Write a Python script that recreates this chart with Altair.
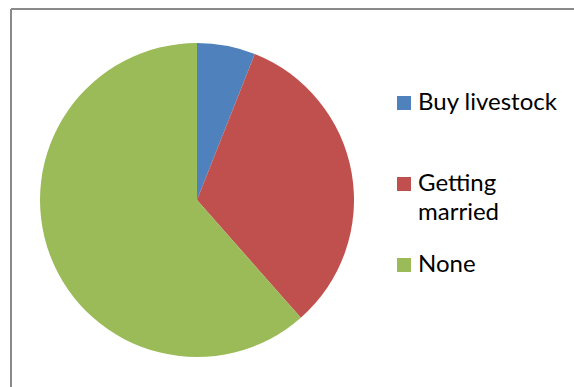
import altair as alt
import pandas as pd

categories = ["Buy livestock", "Getting married", "None"]
shares = [6.0, 32.5, 61.5]
slice_order = [0, 1, 2]
colors = ["#4F81BD", "#C0504D", "#9BBB59"]

df = pd.DataFrame({"category": categories, "share": shares, "order": slice_order})

label_expr = (
    "datum.label == 'Getting married' ? ['Getting', 'married'] : "
    "datum.label == 'Buy livestock' ? ['Buy livestock', ' '] : datum.label"
)

pie = alt.Chart(df).mark_arc(radius=157).encode(
    theta=alt.Theta("share:Q", stack=True),
    order=alt.Order("order:Q"),
    color=alt.Color(
        "category:N",
        scale=alt.Scale(domain=categories, range=colors),
        legend=alt.Legend(
            title=None,
            orient="none",
            legendX=381,
            legendY=82,
            padding=0,
            symbolType="square",
            symbolSize=196,
            symbolStrokeWidth=0,
            labelFont="Lato",
            labelFontSize=24,
            labelColor="#000000",
            labelOffset=2,
            labelLimit=300,
            rowPadding=28,
            labelExpr=label_expr,
        ),
    ),
    x=alt.value(186),
    y=alt.value(191),
)

frame = pd.DataFrame({"k": [0]})
left = alt.Chart(frame).mark_rule(color="#8a8a8a", strokeWidth=2).encode(
    x=alt.value(0), y=alt.value(0), y2=alt.value(378)
)
top = alt.Chart(frame).mark_rule(color="#8a8a8a", strokeWidth=2).encode(
    y=alt.value(0), x=alt.value(0), x2=alt.value(563)
)

chart = alt.layer(left, top, pie).properties(
    width=563,
    height=378,
    padding={"left": 11, "top": 9, "right": 0, "bottom": 0},
    autosize=alt.AutoSizeParams(type="none"),
    background="white",
).configure(
    style={"guide-label": {"lineHeight": 29}}
).configure_view(stroke=None)

chart.save("out.html", embed_options={"renderer": "svg", "actions": False})
